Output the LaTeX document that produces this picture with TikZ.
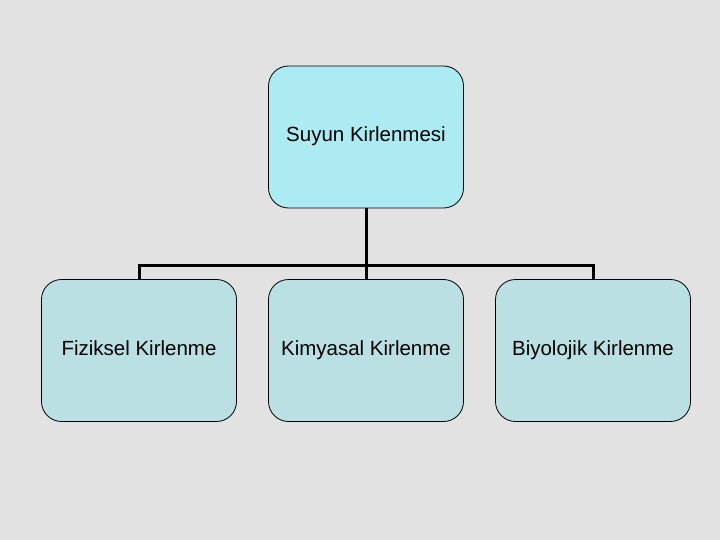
\documentclass[tikz,border=0pt]{standalone}
\usepackage{fontspec}
\setmainfont{Liberation Sans}
\definecolor{bgmarble}{HTML}{E2E2E2}
\definecolor{topfill}{HTML}{ADEBF3}
\definecolor{subfill}{HTML}{BBE0E4}
\begin{document}
\begin{tikzpicture}[x=1pt,y=-1pt,
  box/.style={draw=black, line width=0.8pt, rounded corners=20pt, minimum width=195pt, minimum height=142pt, inner sep=0pt, text height=14pt, text depth=4pt, font=\fontsize{20.5}{24}\selectfont},
  topbox/.style={box, fill=topfill},
  subbox/.style={box, fill=subfill},
  conn/.style={line width=3pt, black}]
\fill[bgmarble] (0,0) rectangle (720,540);
\useasboundingbox (0,0) rectangle (720,540);
\node[topbox] (top) at (366,137) {Suyun Kirlenmesi};
\node[subbox] (fiz) at (139,350.5) {Fiziksel Kirlenme};
\node[subbox] (kim) at (366,350.5) {Kimyasal Kirlenme};
\node[subbox] (bio) at (593,350.5) {Biyolojik Kirlenme};
\coordinate (j) at (366,265);
\draw[conn] (top.south) -- (kim.north);
\draw[conn] (fiz.north) |- (j) -| (bio.north);
\end{tikzpicture}
\end{document}
